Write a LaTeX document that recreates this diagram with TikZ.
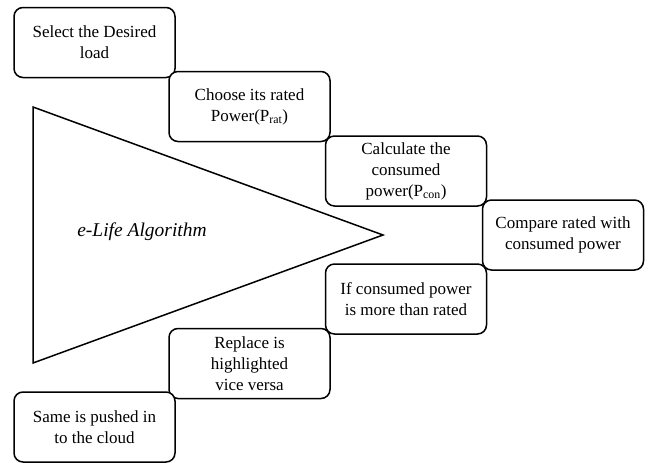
\documentclass[tikz,border=0pt]{standalone}
\usepackage{fontspec}
\setmainfont{Liberation Serif}
\usetikzlibrary{positioning}

\begin{document}
\begin{tikzpicture}[x=1pt, y=-1pt]
        \tikzstyle{stage}=[draw=black, fill=white, rounded corners=9pt, line width=1.5pt, minimum width=161pt, minimum height=70pt, inner sep=0pt, align=center, font=\fontsize{17}{21}\selectfont];

        \useasboundingbox (0, 0) rectangle (649, 463);

        % the algorithm triangle
        \coordinate (top) at (33, 107);
        \coordinate (tip) at (383, 235);
        \coordinate (bottom) at (33, 363);
        \draw[line width=1.5pt, line join=miter] (top) -- (tip) -- (bottom) -- cycle;
        \node[font=\fontsize{19.5}{23}\itshape] (algo) at (142, 232) {e-Life Algorithm};

        \node (1) at (94.5, 42.5) [stage] {Select the Desired\\load};
        \node (2) at (249.5, 106.5) [stage] {Choose its rated\\Power(P\textsubscript{rat})};
        \node (3) at (406, 171) [stage] {Calculate the\\consumed\\power(P\textsubscript{con})};
        \node (4) at (563, 235) [stage] {Compare rated with\\consumed power};
        \node (5) at (406, 299) [stage] {If consumed power\\is more than rated};
        \node (6) at (249.5, 363.5) [stage] {Replace is\\highlighted\\vice versa};
        \node (7) at (94.5, 427) [stage] {Same is pushed in\\to the cloud};
\end{tikzpicture}
\end{document}
